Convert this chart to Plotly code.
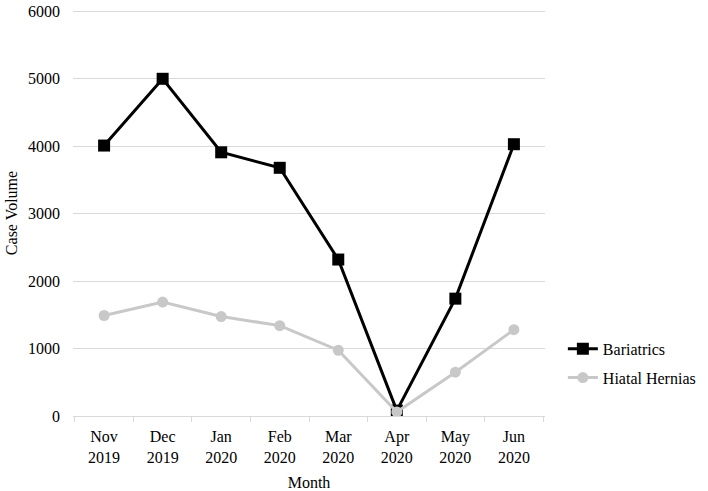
import plotly.graph_objects as go

months = ["Nov<br>2019", "Dec<br>2019", "Jan<br>2020", "Feb<br>2020", "Mar<br>2020", "Apr<br>2020", "May<br>2020", "Jun<br>2020"]
bariatrics = [4010, 5000, 3910, 3680, 2320, 80, 1740, 4030]
hiatal_hernias = [1490, 1690, 1475, 1340, 975, 60, 650, 1280]

font_family = "Liberation Serif, Times New Roman, serif"

fig = go.Figure()
fig.add_trace(go.Scatter(
    x=months, y=bariatrics, name="Bariatrics", mode="lines+markers",
    legendgroup="a",
    line=dict(color="#000000", width=3),
    marker=dict(symbol="square", size=12, color="#000000"),
))
fig.add_trace(go.Scatter(
    x=months, y=hiatal_hernias, name="Hiatal Hernias", mode="lines+markers",
    legendgroup="b",
    line=dict(color="#c8c8c8", width=3),
    marker=dict(symbol="circle", size=11, color="#c8c8c8"),
))

fig.update_layout(
    width=708, height=491,
    margin=dict(l=73, r=163, t=10, b=75),
    paper_bgcolor="white", plot_bgcolor="white",
    font=dict(family=font_family, size=16, color="#000000"),
    legend=dict(xref="container", yref="container", x=0.795, y=0.26,
                xanchor="left", yanchor="middle",
                font=dict(size=16), bgcolor="rgba(0,0,0,0)", tracegroupgap=5),
    xaxis=dict(
        title=dict(text="Month", standoff=12, font=dict(size=16)),
        automargin=False,
        showgrid=False, showline=True, linecolor="#d9d9d9", linewidth=1,
        ticks="outside", tickson="boundaries", ticklen=5, tickcolor="#d9d9d9",
        tickfont=dict(size=16), ticklabelstandoff=6,
    ),
    yaxis=dict(
        title=dict(text="Case Volume", standoff=6, font=dict(size=16)),
        automargin=False,
        range=[0, 6020], dtick=1000, showgrid=True, gridcolor="#d9d9d9", gridwidth=1,
        zeroline=False, showline=False, ticks="", ticklabelstandoff=12,
        tickfont=dict(size=16),
    ),
)

fig.write_html("out.html", config={"displayModeBar": False},
               post_script="document.body.style.margin='0';")
